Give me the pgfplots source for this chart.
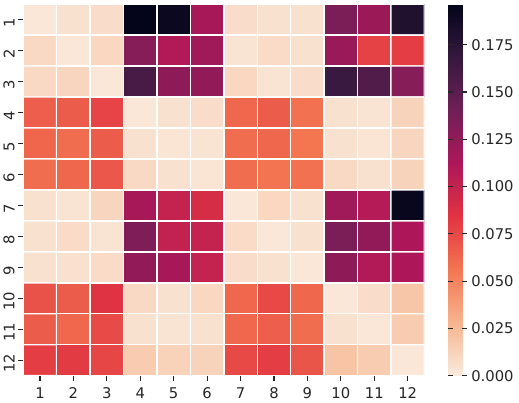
\documentclass[border={0pt 0pt 2pt 4pt}]{standalone}
\usepackage{fontspec}
\setmainfont{DejaVu Sans}
\usepackage{pgfplots}
\pgfplotsset{compat=1.18}
\definecolor{tickgray}{RGB}{38,38,38}

\begin{document}
\begin{tikzpicture}
\begin{axis}[
    scale only axis,
    width=394pt, height=365pt,
    xmin=0.5, xmax=12.5, ymin=0.5, ymax=12.5,
    y dir=reverse,
    enlargelimits=false,
    xtick={1,...,12}, ytick={1,...,12},
    xticklabel={\pgfmathprintnumber[assume math mode=true]{\tick}},
    yticklabel={\pgfmathprintnumber[assume math mode=true]{\tick}},
    axis line style={draw=none},
    tick align=outside,
    major tick length=5pt,
    tick style={tickgray, line width=1.1pt},
    xtick pos=bottom, ytick pos=left,
    tick label style={font=\fontsize{14.5}{17}\selectfont, text=tickgray},
    xticklabel style={yshift=-3pt},
    yticklabel style={rotate=90, anchor=south, xshift=-3pt},
    colormap={rocketr}{rgb255(0)=(250,235,221) rgb255(1)=(246,180,143)
        rgb255(2)=(243,118,81) rgb255(3)=(225,51,66) rgb255(4)=(173,23,89)
        rgb255(5)=(112,31,87) rgb255(6)=(53,25,62) rgb255(7)=(3,5,26)},
    point meta min=0, point meta max=0.1965,
    colorbar,
    colorbar style={
        y dir=normal,
        width=18pt,
        xshift=15pt,
        axis line style={draw=none},
        ytick={0,0.025,0.05,0.075,0.1,0.125,0.15,0.175},
        yticklabel={\pgfmathprintnumber[assume math mode=true, fixed, fixed zerofill, precision=3]{\tick}},
        yticklabel style={font=\fontsize{14.5}{17}\selectfont, text=tickgray, xshift=1pt},
        major tick length=5pt,
        tick style={tickgray, line width=1.1pt},
    },
]
\addplot[matrix plot*, mesh/cols=12, point meta=explicit, draw=white, line width=1.4pt] coordinates {
(1,1) [0.002] (2,1) [0.005] (3,1) [0.007] (4,1) [0.196] (5,1) [0.192] (6,1) [0.115] (7,1) [0.007] (8,1) [0.005] (9,1) [0.005] (10,1) [0.135] (11,1) [0.120] (12,1) [0.180]

(1,2) [0.009] (2,2) [0.002] (3,2) [0.010] (4,2) [0.130] (5,2) [0.110] (6,2) [0.118] (7,2) [0.004] (8,2) [0.008] (9,2) [0.005] (10,2) [0.122] (11,2) [0.078] (12,2) [0.080]

(1,3) [0.009] (2,3) [0.011] (3,3) [0.002] (4,3) [0.160] (5,3) [0.127] (6,3) [0.124] (7,3) [0.010] (8,3) [0.004] (9,3) [0.007] (10,3) [0.166] (11,3) [0.155] (12,3) [0.130]

(1,4) [0.066] (2,4) [0.067] (3,4) [0.077] (4,4) [0.002] (5,4) [0.005] (6,4) [0.007] (7,4) [0.062] (8,4) [0.067] (9,4) [0.058] (10,4) [0.005] (11,4) [0.004] (12,4) [0.012]

(1,5) [0.063] (2,5) [0.060] (3,5) [0.067] (4,5) [0.005] (5,5) [0.003] (6,5) [0.004] (7,5) [0.060] (8,5) [0.062] (9,5) [0.056] (10,5) [0.005] (11,5) [0.003] (12,5) [0.011]

(1,6) [0.060] (2,6) [0.062] (3,6) [0.069] (4,6) [0.009] (5,6) [0.005] (6,6) [0.003] (7,6) [0.060] (8,6) [0.057] (9,6) [0.058] (10,6) [0.009] (11,6) [0.005] (12,6) [0.012]

(1,7) [0.005] (2,7) [0.004] (3,7) [0.011] (4,7) [0.115] (5,7) [0.100] (6,7) [0.090] (7,7) [0.002] (8,7) [0.010] (9,7) [0.005] (10,7) [0.118] (11,7) [0.108] (12,7) [0.193]

(1,8) [0.005] (2,8) [0.008] (3,8) [0.004] (4,8) [0.134] (5,8) [0.101] (6,8) [0.100] (7,8) [0.008] (8,8) [0.002] (9,8) [0.005] (10,8) [0.135] (11,8) [0.124] (12,8) [0.112]

(1,9) [0.005] (2,9) [0.005] (3,9) [0.008] (4,9) [0.124] (5,9) [0.115] (6,9) [0.100] (7,9) [0.007] (8,9) [0.005] (9,9) [0.002] (10,9) [0.127] (11,9) [0.110] (12,9) [0.112]

(1,10) [0.071] (2,10) [0.067] (3,10) [0.085] (4,10) [0.009] (5,10) [0.005] (6,10) [0.010] (7,10) [0.062] (8,10) [0.075] (9,10) [0.062] (10,10) [0.002] (11,10) [0.007] (12,10) [0.019]

(1,11) [0.067] (2,11) [0.062] (3,11) [0.074] (4,11) [0.005] (5,11) [0.004] (6,11) [0.005] (7,11) [0.062] (8,11) [0.066] (9,11) [0.060] (10,11) [0.005] (11,11) [0.002] (12,11) [0.016]

(1,12) [0.080] (2,12) [0.081] (3,12) [0.076] (4,12) [0.016] (5,12) [0.013] (6,12) [0.012] (7,12) [0.075] (8,12) [0.080] (9,12) [0.070] (10,12) [0.020] (11,12) [0.016] (12,12) [0.002]
};
\end{axis}
\end{tikzpicture}
\end{document}
